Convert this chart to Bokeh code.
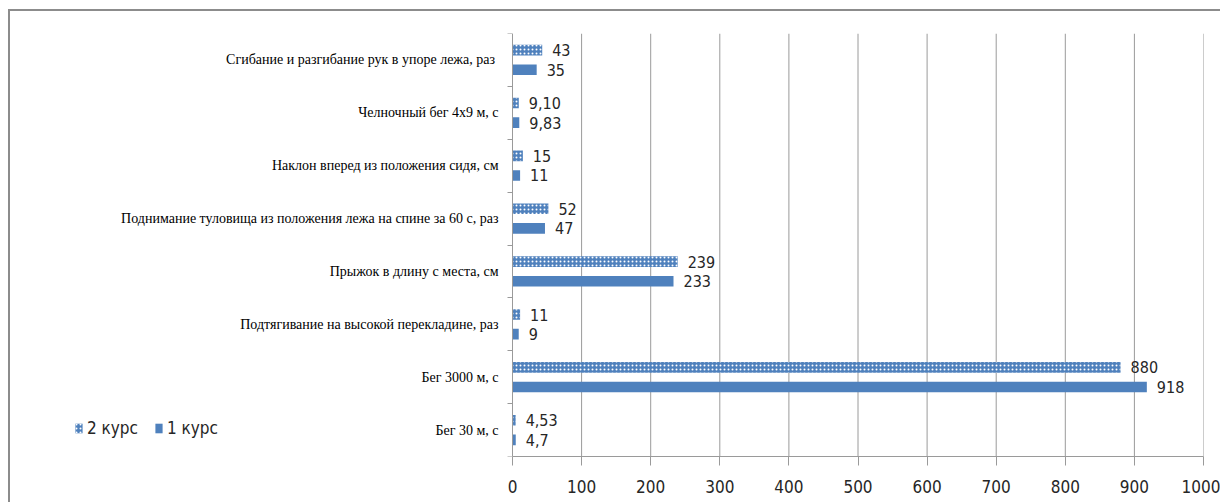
from bokeh.plotting import figure
from bokeh.models import (ColumnDataSource, FixedTicker, Legend, LegendItem,
                          Range1d, LinearAxis)
from bokeh.embed import file_html
from bokeh.resources import INLINE
from bokeh.core.properties import value
import numpy as np

# Normatives, listed bottom to top
categories = [
    "Бег 30 м, с",
    "Бег 3000 м, с",
    "Подтягивание на высокой перекладине, раз",
    "Прыжок в длину с места, см",
    "Поднимание туловища из положения лежа на спине за 60 с, раз",
    "Наклон вперед из положения сидя, см",
    "Челночный бег 4x9 м, с",
    "Сгибание и разгибание  рук в упоре лежа, раз",
]
kurs2 = [4.53, 880, 11, 239, 52, 15, 9.10, 43]
kurs1 = [4.7, 918, 9, 233, 47, 11, 9.83, 35]
kurs2_labels = ["4,53", "880", "11", "239", "52", "15", "9,10", "43"]
kurs1_labels = ["4,7", "918", "9", "233", "47", "11", "9,83", "35"]
x_ticks = [0, 100, 200, 300, 400, 500, 600, 700, 800, 900, 1000]

BLUE = "#4F81BD"
GRID = "#9A9A9A"
SANS = "DejaVu Sans Condensed, Roboto"
SERIF = "Liberation Serif"

# frame geometry (pixels inside the figure)
FRAME_LEFT, FRAME_RIGHT = 50, 1193      # value 0 sits at ZERO_PX
ZERO_PX = 502
px_per_unit = (FRAME_RIGHT - ZERO_PX) / 1000.0
x_start = -(ZERO_PX - FRAME_LEFT) / px_per_unit

n = len(categories)
centers = np.arange(n) + 0.5
off = 0.185
bar_h = 0.2

src2 = ColumnDataSource(dict(y=centers + off, v=kurs2, lab=kurs2_labels))
src1 = ColumnDataSource(dict(y=centers - off, v=kurs1, lab=kurs1_labels))

p = figure(width=1212, height=493, output_backend="svg", toolbar_location=None,
           x_range=Range1d(x_start, 1000), y_range=Range1d(0, n),
           x_axis_type=None, y_axis_type=None,
           min_border_left=FRAME_LEFT, min_border_right=1212 - FRAME_RIGHT,
           min_border_top=22, min_border_bottom=48)
p.outline_line_color = None
p.background_fill_color = "white"
p.border_fill_color = "white"
# chart-area frame: only its top and left edges fall inside the window
p.styles = {"margin-left": "8px", "margin-top": "9px",
            "border-top": "2px solid #8C8C8C", "border-left": "2px solid #8C8C8C"}

# vertical value grid, only over the value range
p.segment(x0=x_ticks[1:], y0=0, x1=x_ticks[1:], y1=n, line_color=GRID, line_width=1)

r2 = p.hbar(y="y", right="v", left=0, height=bar_h, source=src2,
            fill_color=BLUE, line_color=None,
            hatch_pattern="dot", hatch_color="white", hatch_scale=4, hatch_weight=2.2)
r1 = p.hbar(y="y", right="v", left=0, height=bar_h, source=src1,
            fill_color=BLUE, line_color=None)

for s in (src2, src1):
    p.text(x="v", y="y", text="lab", source=s, x_offset=10,
           text_align="left", text_baseline="middle",
           text_font=value(SANS), text_font_size="16px", text_color="#262626")

# x axis with tick marks hanging below
xa = LinearAxis(ticker=FixedTicker(ticks=x_ticks), bounds=(0, 1000))
xa.axis_line_color = GRID
xa.major_tick_line_color = GRID
xa.major_tick_out = 9
xa.major_tick_in = 0
xa.minor_tick_line_color = None
xa.major_label_standoff = 14
xa.major_label_text_font = SANS
xa.major_label_text_font_size = "17px"
xa.major_label_text_color = "#262626"
p.add_layout(xa, "below")

# category axis pinned at value 0: labels at centres, ticks on borders
ya = LinearAxis(ticker=FixedTicker(ticks=list(centers),
                                   minor_ticks=list(range(n + 1))),
                fixed_location=0)
ya.major_label_overrides = {float(c): name for c, name in zip(centers, categories)}
ya.axis_line_color = GRID
ya.major_tick_line_color = None
ya.minor_tick_line_color = GRID
ya.minor_tick_out = 5
ya.minor_tick_in = 0
ya.major_label_standoff = 8
ya.major_label_text_font = SERIF
ya.major_label_text_font_size = "14px"
ya.major_label_text_color = "#000000"
p.add_layout(ya, "left")

p.xgrid.grid_line_color = None
p.ygrid.grid_line_color = None

legend = Legend(items=[LegendItem(label="2 курс", renderers=[r2]),
                       LegendItem(label="1 курс", renderers=[r1])],
                orientation="horizontal", location=(14, 18),
                label_text_font=SANS, label_text_font_size="17px",
                label_text_color="#262626", glyph_width=9, glyph_height=12,
                spacing=16, label_standoff=4, border_line_color=None,
                background_fill_alpha=0, padding=0, margin=0)
p.add_layout(legend, "center")

open("out.html", "w").write(file_html(p, INLINE))
